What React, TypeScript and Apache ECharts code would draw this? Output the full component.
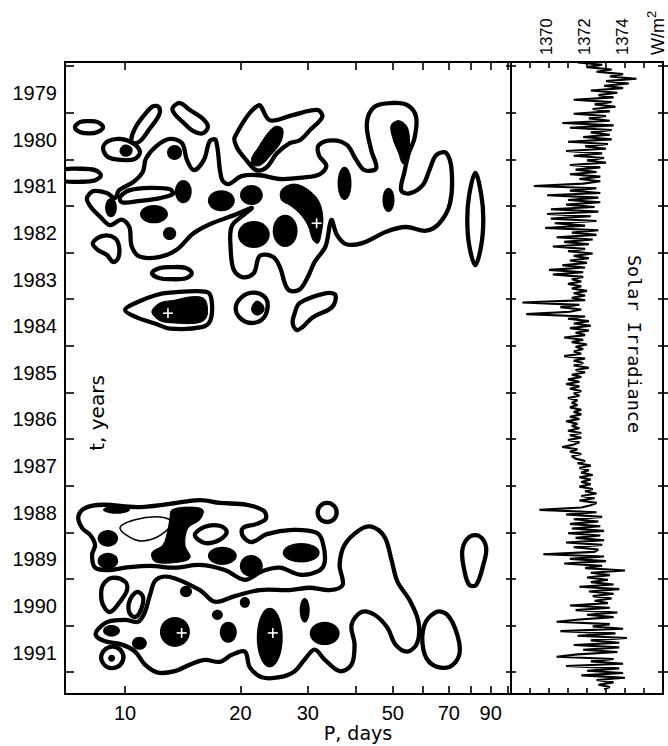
import { useEffect, useRef } from "react";
import * as echarts from "echarts";

// ---------- axes ----------
const periodMin = 6.97;
const periodMax = 101.7;
const yearMin = 1978.91;
const yearMax = 1992.47;
const irrMin = 1368;
const irrMax = 1376;

const yearTicks = [1979, 1980, 1981, 1982, 1983, 1984, 1985, 1986, 1987, 1988, 1989, 1990, 1991, 1992];
const yearLabels = [1979, 1980, 1981, 1982, 1983, 1984, 1985, 1986, 1987, 1988, 1989, 1990, 1991];
const periodTicks = [10, 20, 30, 40, 50, 60, 70, 80, 90, 100];
const periodLabels = [10, 20, 30, 50, 70, 90];
const irrLabels = [1370, 1372, 1374];
const irrUnit = "W/m";

// ---------- solar irradiance (W/m^2), sampled every 0.05 yr ----------
const irrStart = 1978.92;
const irrStep = 0.05;
const irradiance = [
  1371.5, 1372.8, 1372.0, 1373.3, 1372.5, 1373.9, 1373.2, 1374.6, 1373.0, 1374.2,
  1372.9, 1373.9, 1372.2, 1373.6, 1372.6, 1373.4, 1371.3, 1373.3, 1372.4, 1373.5,
  1372.3, 1373.2, 1371.3, 1373.0, 1372.1, 1373.2, 1370.7, 1373.4, 1371.1, 1373.3,
  1372.2, 1373.2, 1371.8, 1373.3, 1371.0, 1373.1, 1371.9, 1373.0, 1370.9, 1372.8,
  1371.3, 1372.9, 1372.0, 1373.0, 1371.1, 1372.7, 1371.4, 1372.5, 1371.1, 1372.7,
  1371.6, 1372.7, 1371.8, 1369.2, 1372.5, 1371.1, 1372.7, 1369.9, 1372.6, 1371.0,
  1372.7, 1370.9, 1372.4, 1370.1, 1372.6, 1369.9, 1372.2, 1370.1, 1372.5, 1370.3,
  1371.9, 1369.8, 1372.6, 1371.2, 1372.5, 1370.4, 1372.3, 1370.8, 1372.1, 1370.2,
  1371.9, 1371.0, 1372.3, 1371.3, 1372.1, 1371.1, 1372.0, 1370.7, 1371.9, 1370.0,
  1371.8, 1370.2, 1371.8, 1371.2, 1371.7, 1371.0, 1371.7, 1371.2, 1372.0, 1371.3,
  1371.9, 1371.2, 1371.9, 1368.6, 1371.6, 1370.6, 1371.7, 1371.1, 1368.8, 1371.9,
  1371.0, 1372.1, 1371.3, 1372.2, 1371.1, 1372.1, 1371.4, 1371.9, 1370.8, 1371.8,
  1371.2, 1372.0, 1371.4, 1371.8, 1371.3, 1371.7, 1370.8, 1371.9, 1371.3, 1371.8,
  1371.3, 1372.1, 1371.4, 1371.9, 1371.2, 1371.7, 1371.0, 1371.6, 1370.9, 1371.6,
  1371.1, 1371.7, 1371.3, 1371.6, 1371.0, 1371.5, 1371.2, 1371.5, 1371.1, 1371.7,
  1371.3, 1371.7, 1371.1, 1371.6, 1370.9, 1371.5, 1371.2, 1371.6, 1371.0, 1371.7,
  1371.1, 1371.7, 1371.0, 1371.6, 1371.3, 1370.7, 1371.5, 1371.1, 1371.7, 1371.2,
  1371.4, 1371.9, 1371.5, 1372.2, 1371.6, 1372.1, 1371.7, 1372.3, 1371.6, 1372.2,
  1371.7, 1372.2, 1371.6, 1372.3, 1371.9, 1372.5, 1371.7, 1372.4, 1371.6, 1372.5,
  1372.2, 1371.7, 1369.5, 1372.5, 1370.9, 1372.8, 1371.3, 1372.6, 1371.1, 1372.7,
  1371.2, 1372.9, 1371.0, 1372.7, 1371.4, 1372.9, 1370.9, 1372.8, 1371.3, 1372.6,
  1372.4, 1369.7, 1372.9, 1371.1, 1373.0, 1370.8, 1372.8, 1371.9, 1374.0, 1372.2,
  1373.2, 1372.0, 1373.1, 1372.2, 1373.4, 1371.6, 1373.7, 1372.1, 1373.4, 1372.3,
  1373.3, 1372.4, 1373.1, 1371.1, 1373.2, 1371.4, 1373.6, 1372.0, 1373.4, 1371.6,
  1370.4, 1373.2, 1372.3, 1373.9, 1370.6, 1373.5, 1371.5, 1374.1, 1372.2, 1373.7,
  1371.3, 1373.7, 1371.8, 1373.6, 1371.5, 1370.4, 1373.4, 1372.2, 1373.9, 1370.9,
  1373.7, 1372.0, 1373.9, 1371.7, 1374.0, 1372.5, 1373.4, 1372.6, 1373.2, 1372.9,
];

// ---------- wavelet-power contours: [period (days), time (yr)] ----------
const c1980a = [[7.40,1980.31],[7.62,1980.20],[8.05,1980.18],[8.48,1980.20],[8.76,1980.31],[8.48,1980.41],[8.05,1980.44],[7.62,1980.41]];
const c1981a = [[6.57,1981.34],[6.85,1981.22],[7.62,1981.20],[8.35,1981.23],[8.65,1981.34],[8.35,1981.45],[7.62,1981.48],[6.85,1981.46]];
const c1980b = [[8.76,1980.76],[9.03,1980.61],[9.70,1980.56],[10.48,1980.65],[10.94,1980.84],[10.6,1980.99],[9.82,1981.01],[9.03,1980.95]];
const c1980c = [[10.37,1980.59],[10.62,1980.33],[11.27,1980.03],[11.83,1979.86],[12.26,1979.88],[12.26,1980.05],[11.62,1980.33],[10.94,1980.61],[10.55,1980.65]];
const c1980d = [[13.3,1979.9],[13.91,1979.79],[14.77,1979.94],[15.87,1980.11],[16.45,1980.29],[15.97,1980.44],[15.03,1980.39],[14.16,1980.2],[13.49,1980.03]];
const c1980e = [[19.34,1980.52],[22.3,1979.84],[23.86,1980.16],[27.38,1980.05],[31.8,1979.94],[32.7,1980.09],[30.4,1980.37],[28.56,1980.59],[26.9,1980.65],[24.9,1980.87],[23.4,1981.17],[22.0,1981.23],[20.7,1981.01],[19.57,1980.74]];
const c1982main = [
  [7.95,1981.84],[8.27,1981.68],[8.96,1981.72],[9.42,1981.83],[9.65,1981.66],[10.49,1981.49],[11.12,1981.27],[11.34,1980.98],
  [12.09,1980.71],[13.1,1980.56],[14.08,1980.65],[14.5,1981.01],[15.12,1981.23],[16.06,1981.01],[16.65,1980.6],[17.26,1980.59],
  [17.86,1981.41],[18.58,1981.53],[20.13,1981.36],[22.47,1981.34],[25.33,1981.42],[29.13,1981.39],[32.2,1981.32],[33.52,1981.14],
  [32.06,1980.91],[32.06,1980.69],[34.86,1980.59],[37.93,1980.69],[40.12,1981.01],[42.17,1981.23],[45.24,1981.19],[43.9,1980.8],
  [42.76,1980.23],[44.77,1979.87],[49.96,1979.79],[54.67,1979.84],[57.5,1980.09],[56.92,1980.55],[55.0,1980.87],[53.6,1981.27],
  [52.55,1981.66],[55.23,1981.73],[59.83,1981.55],[62.28,1981.23],[64.83,1980.91],[68.84,1980.86],[71.17,1981.23],[70.5,1981.94],
  [66.12,1982.37],[61.07,1982.53],[54.16,1982.45],[48.03,1982.55],[41.75,1982.79],[37.79,1982.82],[35.71,1982.62],[34.54,1982.3],
  [33.38,1982.86],[31.25,1983.2],[30.0,1983.52],[28.44,1983.8],[26.62,1983.79],[25.33,1983.3],[24.33,1983.09],[22.47,1983.07],
  [21.68,1983.44],[20.33,1983.53],[19.22,1983.37],[18.85,1982.87],[19.0,1982.43],[20.54,1982.17],[21.41,1982.04],[19.34,1982.19],
  [16.65,1982.39],[15.06,1982.59],[13.63,1982.94],[12.33,1983.09],[10.94,1983.09],[10.41,1982.87],[10.26,1982.45],[9.8,1982.29],
  [9.14,1982.41],[8.61,1982.23],[8.19,1982.05],
];
const c1981pill = [[9.70,1981.81],[10.30,1981.66],[11.62,1981.61],[13.10,1981.64],[13.33,1981.74],[12.33,1981.83],[10.94,1981.89],[9.82,1981.92]];
const c1983a = [[8.24,1982.79],[8.76,1982.64],[9.42,1982.69],[9.65,1982.88],[9.59,1983.12],[9.30,1983.2],[8.97,1983.05],[8.48,1982.94]];
const c1983b = [[11.75,1983.44],[12.33,1983.33],[13.24,1983.31],[14.42,1983.33],[14.93,1983.44],[14.42,1983.55],[13.24,1983.57],[12.33,1983.55]];
const c1984a = [[10.0,1984.23],[10.72,1984.07],[12.06,1983.91],[13.09,1983.86],[16.32,1983.84],[16.82,1984.02],[16.7,1984.45],[15.85,1984.6],[13.09,1984.63],[12.06,1984.53],[10.72,1984.39]];
const c1984b = [[19.45,1984.17],[20.2,1983.95],[21.54,1983.86],[23.0,1983.93],[23.57,1984.12],[23.0,1984.4],[21.41,1984.51],[19.95,1984.4]];
const c1984c = [[27.72,1984.3],[28.56,1984.08],[33.5,1983.87],[35.4,1983.91],[34.7,1984.17],[30.87,1984.39],[29.03,1984.6],[28.05,1984.66],[27.38,1984.51]];
const c1982r = [[78.2,1982.28],[79.1,1981.76],[82.07,1981.29],[85.07,1981.76],[86.1,1982.28],[85.07,1982.84],[82.07,1983.27],[79.1,1982.84]];
const c1989main = [
  [7.55,1988.67],[7.87,1988.48],[8.76,1988.41],[10.75,1988.46],[13.10,1988.39],[15.68,1988.31],[17.67,1988.37],[20.79,1988.41],
  [23.02,1988.54],[23.30,1988.71],[22.07,1988.82],[20.29,1988.91],[20.29,1989.08],[21.42,1989.21],[23.44,1989.04],[27.39,1988.95],
  [31.62,1989.01],[32.78,1989.21],[33.18,1989.65],[31.82,1989.84],[28.56,1989.91],[25.33,1989.76],[22.74,1989.84],[20.54,1990.02],
  [18.21,1989.81],[15.68,1989.70],[13.49,1989.76],[11.62,1989.72],[10.0,1989.76],[9.03,1989.81],[8.35,1989.76],[8.20,1989.49],
  [8.35,1989.27],[8.11,1989.06],[7.73,1988.91],
];
const c1989b = [[15.21,1989.06],[16.15,1988.88],[17.67,1988.86],[18.43,1988.99],[17.67,1989.16],[16.15,1989.23]];
const c1991main = [
  [8.48,1991.09],[9.03,1990.92],[10.0,1990.88],[10.81,1990.92],[11.27,1990.71],[11.62,1990.34],[12.04,1990.02],[13.10,1989.96],
  [15.68,1990.24],[17.15,1990.49],[19.34,1990.37],[22.47,1990.24],[26.90,1990.24],[30.33,1990.19],[34.19,1990.24],[36.97,1990.13],
  [36.31,1989.70],[37.41,1989.27],[40.93,1988.95],[43.97,1988.88],[47.55,1989.10],[49.58,1989.59],[51.40,1990.06],[55.23,1990.45],
  [58.3,1990.92],[57.9,1991.37],[54.6,1991.56],[50.8,1991.41],[48.4,1991.05],[44.78,1990.77],[41.4,1990.71],[39.0,1990.99],
  [39.72,1991.41],[39.0,1991.84],[36.31,1991.98],[33.18,1991.73],[31.25,1991.52],[29.43,1991.73],[27.72,1991.98],[25.33,1992.11],
  [22.74,1992.11],[21.17,1991.90],[20.54,1991.56],[19.0,1991.63],[17.67,1991.78],[16.15,1991.74],[14.77,1991.84],[13.49,1991.98],
  [12.18,1992.01],[11.27,1991.84],[10.62,1991.56],[9.82,1991.41],[8.87,1991.34],[8.40,1991.22],
];
const c1990a = [[8.76,1990.13],[9.25,1989.98],[10.0,1990.06],[10.12,1990.24],[9.70,1990.49],[9.14,1990.71],[8.76,1990.56],[8.66,1990.34]];
const c1990b = [[10.30,1990.45],[10.75,1990.28],[11.14,1990.39],[11.01,1990.66],[10.62,1990.82],[10.24,1990.71]];
const c1991ring = [[8.66,1991.7],[8.92,1991.5],[9.42,1991.46],[9.82,1991.57],[9.88,1991.74],[9.53,1991.89],[8.97,1991.89]];
const c1991r = [[60.43,1990.99],[64.94,1990.71],[69.36,1990.77],[73.65,1991.2],[74.54,1991.63],[70.2,1991.89],[63.4,1991.84],[60.07,1991.52]];
const c1989r = [[75.9,1989.38],[79.14,1989.1],[84.03,1989.08],[87.6,1989.33],[86.1,1989.7],[82.5,1990.13],[79.14,1990.13],[76.8,1989.81]];

const contourLines = [
  c1980a, c1981a, c1980b, c1980c, c1980d, c1980e, c1982main, c1981pill, c1983a, c1983b,
  c1984a, c1984b, c1984c, c1982r, c1989main, c1989b, c1991main, c1990a, c1990b, c1991ring,
  c1991r, c1989r,
];
const thinContours = [
  [[9.70,1988.91],[10.62,1988.73],[12.33,1988.67],[13.25,1988.78],[12.71,1988.99],[11.62,1989.16],[10.62,1989.16]],
];
// ring-shaped single contours [Pmin, Pmax, tmin, tmax]
const ellipseLines = [[31.82, 35.67, 1988.37, 1988.78]];

// filled (significant) regions
const fillShapes = [
  [[21.41,1980.97],[22.2,1980.76],[23.57,1980.44],[24.73,1980.29],[25.79,1980.35],[25.48,1980.63],[24.0,1980.91],[22.6,1981.12],[21.54,1981.12]],
  [[25.59,1981.66],[27.4,1981.53],[29.67,1981.62],[31.9,1981.87],[32.82,1982.23],[32.5,1982.59],[31.9,1982.8],[30.93,1982.73],[30.0,1982.41],[28.56,1982.16],[26.9,1981.98],[25.59,1981.87]],
  [[49.5,1980.26],[52.0,1980.17],[54.67,1980.33],[55.23,1980.73],[54.67,1981.05],[53.05,1981.09],[51.8,1980.87],[50.0,1980.55]],
  [[9.70,1980.82],[9.82,1980.72],[10.06,1980.69],[10.37,1980.74],[10.43,1980.82],[10.30,1980.91],[10.06,1980.93],[9.82,1980.91]],
  [[11.75,1984.27],[12.33,1984.08],[13.49,1984.02],[14.77,1983.95],[15.97,1983.97],[16.37,1984.12],[16.28,1984.4],[15.44,1984.51],[13.49,1984.51],[12.33,1984.46]],
  [[21.4,1984.19],[22.0,1984.04],[22.9,1984.12],[23.0,1984.26],[22.2,1984.34],[21.6,1984.3]],
  [[13.25,1988.52],[14.77,1988.46],[15.96,1988.52],[15.68,1988.73],[14.59,1988.91],[14.33,1989.27],[14.77,1989.55],[13.49,1989.65],[11.97,1989.63],[11.75,1989.44],[12.56,1989.27],[12.94,1988.95],[13.10,1988.69]],
];
const fillEllipses = [
  [8.87, 9.52, 1981.83, 1982.24],
  [10.94, 12.94, 1981.98, 1982.37],
  [12.56, 13.6, 1982.45, 1982.73],
  [13.49, 14.93, 1981.44, 1981.94],
  [12.87, 14.08, 1980.69, 1981.01],
  [16.45, 19.34, 1981.66, 1982.11],
  [19.95, 22.88, 1981.55, 1981.98],
  [19.69, 23.86, 1982.32, 1982.9],
  [24.29, 28.2, 1982.19, 1982.88],
  [35.87, 39.0, 1981.16, 1981.87],
  [46.97, 50.5, 1981.61, 1982.13],
  [8.76, 10.30, 1988.43, 1988.60],
  [8.48, 9.59, 1988.95, 1989.31],
  [8.48, 9.59, 1989.44, 1989.79],
  [16.45, 19.57, 1989.31, 1989.70],
  [19.93, 22.88, 1989.49, 1989.96],
  [25.79, 32.20, 1989.23, 1989.65],
  [8.76, 9.70, 1990.99, 1991.24],
  [10.42, 11.4, 1991.24, 1991.52],
  [12.33, 14.77, 1990.82, 1991.46],
  [16.85, 18.0, 1990.66, 1990.88],
  [17.67, 19.57, 1990.92, 1991.37],
  [19.93, 21.17, 1990.39, 1990.62],
  [13.91, 14.95, 1990.15, 1990.39],
  [22.07, 25.79, 1990.62, 1991.90],
  [28.56, 30.33, 1990.41, 1990.94],
  [30.33, 36.31, 1990.92, 1991.42],
  [9.03, 9.42, 1991.63, 1991.78],
];
const peakMarks = [[31.62, 1982.37], [12.94, 1984.30], [14.05, 1991.16], [24.3, 1991.16]];

const lg = (v: number) => Math.log10(v);
const BLACK = "#000";

function polygonSeries(shapes: number[][][], style: any, smooth: number) {
  return {
    type: "custom",
    xAxisIndex: 0,
    yAxisIndex: 0,
    clip: true,
    silent: true,
    data: shapes.map((s) => [lg(s[0][0]), s[0][1]]),
    renderItem: (params: any, api: any) => {
      const s = shapes[params.dataIndex];
      const pts = s.map((p) => api.coord([lg(p[0]), p[1]]));
      return { type: "polygon", shape: { points: pts, smooth }, style };
    },
  };
}

function ellipseSeries(list: number[][], style: any) {
  return {
    type: "custom",
    xAxisIndex: 0,
    yAxisIndex: 0,
    clip: true,
    silent: true,
    data: list.map((e) => [lg(e[0]), e[2]]),
    renderItem: (params: any, api: any) => {
      const e = list[params.dataIndex];
      const a = api.coord([lg(e[0]), e[2]]);
      const b = api.coord([lg(e[1]), e[3]]);
      return {
        type: "ellipse",
        shape: { cx: (a[0] + b[0]) / 2, cy: (a[1] + b[1]) / 2, rx: Math.abs(b[0] - a[0]) / 2, ry: Math.abs(b[1] - a[1]) / 2 },
        style,
      };
    },
  };
}

export default function App() {
  const ref = useRef<HTMLDivElement>(null);
  useEffect(() => {
    if (!ref.current) return;
    const chart = echarts.init(ref.current, null, { renderer: "svg" });
    const lineAx = { show: true, onZero: false, lineStyle: { color: BLACK, width: 2 } };
    const tickStyle = { color: BLACK, width: 1.6 };
    const numFont = { color: BLACK, fontFamily: "Liberation Sans", fontSize: 20 };
    const option: any = {
      animation: false,
      backgroundColor: "#fff",
      grid: [
        { left: 65, top: 62, width: 446, height: 632, containLabel: false, outerBoundsMode: "none" },
        { left: 511, top: 62, width: 152, height: 632, containLabel: false, outerBoundsMode: "none" },
      ],
      xAxis: [
        {
          gridIndex: 0, type: "value", position: "bottom", min: lg(periodMin), max: lg(periodMax),
          axisLine: lineAx, splitLine: { show: false },
          axisTick: { show: true, inside: true, length: 8, customValues: periodTicks.map(lg), lineStyle: tickStyle },
          axisLabel: { ...numFont, margin: 9, customValues: periodLabels.map(lg), formatter: (v: number) => String(Math.round(Math.pow(10, v))) },
        },
        {
          gridIndex: 0, type: "value", position: "top", min: lg(periodMin), max: lg(periodMax),
          axisLine: lineAx, splitLine: { show: false },
          axisTick: { show: true, inside: true, length: 8, customValues: periodTicks.map(lg), lineStyle: tickStyle },
          axisLabel: { show: false },
        },
        {
          gridIndex: 1, type: "value", position: "top", min: irrMin, max: irrMax, interval: 1,
          axisLine: lineAx, splitLine: { show: false },
          axisTick: { show: true, inside: true, length: 6, lineStyle: tickStyle },
          axisLabel: {
            color: BLACK, fontFamily: "Liberation Sans", fontSize: 16.5, rotate: -90, margin: 7,
            customValues: [...irrLabels.map((v) => v - 0.15), 1375.62],
            formatter: (v: number) => (v > 1375 ? "{u|" + irrUnit + "}{s|2}" : String(Math.round(v))),
            rich: {
              u: { fontFamily: "Liberation Sans", fontSize: 18, color: BLACK, verticalAlign: "bottom", lineHeight: 22 },
              s: { fontFamily: "Liberation Sans", fontSize: 13, color: BLACK, verticalAlign: "top", lineHeight: 22 },
            },
          },
        },
        {
          gridIndex: 1, type: "value", position: "bottom", min: irrMin, max: irrMax, interval: 1,
          axisLine: lineAx, splitLine: { show: false },
          axisTick: { show: true, inside: true, length: 6, lineStyle: tickStyle },
          axisLabel: { show: false },
        },
      ],
      yAxis: [
        {
          gridIndex: 0, type: "value", position: "left", inverse: true, min: yearMin, max: yearMax,
          axisLine: lineAx, splitLine: { show: false },
          axisTick: { show: true, inside: true, length: 9, customValues: yearTicks, lineStyle: tickStyle },
          axisLabel: { ...numFont, margin: 8, customValues: yearLabels.map((y) => y + 0.58), formatter: (v: number) => String(Math.floor(v + 1e-6)) },
        },
        {
          gridIndex: 0, type: "value", position: "right", inverse: true, min: yearMin, max: yearMax,
          axisLine: lineAx, splitLine: { show: false },
          axisTick: { show: true, inside: true, length: 5, customValues: yearTicks, lineStyle: tickStyle },
          axisLabel: { show: false },
        },
        {
          gridIndex: 1, type: "value", position: "left", inverse: true, min: yearMin, max: yearMax,
          axisLine: lineAx, splitLine: { show: false },
          axisTick: { show: true, inside: true, length: 5, customValues: yearTicks, lineStyle: tickStyle },
          axisLabel: { show: false },
        },
        {
          gridIndex: 1, type: "value", position: "right", inverse: true, min: yearMin, max: yearMax,
          axisLine: lineAx, splitLine: { show: false },
          axisTick: { show: true, inside: true, length: 5, customValues: yearTicks, lineStyle: tickStyle },
          axisLabel: { show: false },
        },
        {
          gridIndex: 1, type: "value", position: "right", inverse: true, min: yearMin, max: yearMax,
          axisLine: lineAx, splitLine: { show: false },
          axisTick: { show: true, inside: false, length: 5, customValues: yearTicks, lineStyle: tickStyle },
          axisLabel: { show: false },
        },
      ],
      series: [
        polygonSeries(fillShapes, { fill: BLACK, stroke: BLACK, lineWidth: 1 }, 0.35),
        ellipseSeries(fillEllipses, { fill: BLACK }),
        polygonSeries(contourLines, { fill: "none", stroke: BLACK, lineWidth: 4.3 }, 0.35),
        polygonSeries(thinContours, { fill: "none", stroke: BLACK, lineWidth: 1.5 }, 0.35),
        ellipseSeries(ellipseLines, { fill: "none", stroke: BLACK, lineWidth: 4.3 }),
        {
          type: "custom", xAxisIndex: 0, yAxisIndex: 0, clip: true, silent: true,
          data: peakMarks.map((m) => [lg(m[0]), m[1]]),
          renderItem: (params: any, api: any) => {
            const m = peakMarks[params.dataIndex];
            const c = api.coord([lg(m[0]), m[1]]);
            const s = 5;
            const st = { stroke: "#fff", lineWidth: 1.6 };
            return {
              type: "group",
              children: [
                { type: "line", shape: { x1: c[0] - s, y1: c[1], x2: c[0] + s, y2: c[1] }, style: st },
                { type: "line", shape: { x1: c[0], y1: c[1] - s, x2: c[0], y2: c[1] + s }, style: st },
              ],
            };
          },
        },
        {
          type: "line", xAxisIndex: 2, yAxisIndex: 2, symbol: "none", silent: true,
          data: irradiance.map((v, i) => [v, irrStart + i * irrStep]),
          lineStyle: { color: BLACK, width: 2.1 },
        },
      ],
      graphic: [
        {
          type: "text", x: 358, y: 733,
          style: { text: "P, days", fontFamily: "DejaVu Sans", fontSize: 19, fill: BLACK, textAlign: "center", textVerticalAlign: "middle" },
        },
        {
          type: "text", x: 97, y: 413, rotation: Math.PI / 2,
          style: { text: "t, years", fontFamily: "DejaVu Sans", fontSize: 20, fill: BLACK, textAlign: "center", textVerticalAlign: "middle" },
        },
        {
          type: "text", x: 634, y: 344, rotation: -Math.PI / 2,
          style: { text: "Solar Irradiance", fontFamily: "DejaVu Sans Mono", fontSize: 18.5, fill: BLACK, textAlign: "center", textVerticalAlign: "middle" },
        },
      ],
    };
    chart.setOption(option);
    return () => chart.dispose();
  }, []);
  return <div ref={ref} style={{ position: "absolute", left: 0, top: 0, width: 668, height: 746, background: "#fff" }} />;
}
